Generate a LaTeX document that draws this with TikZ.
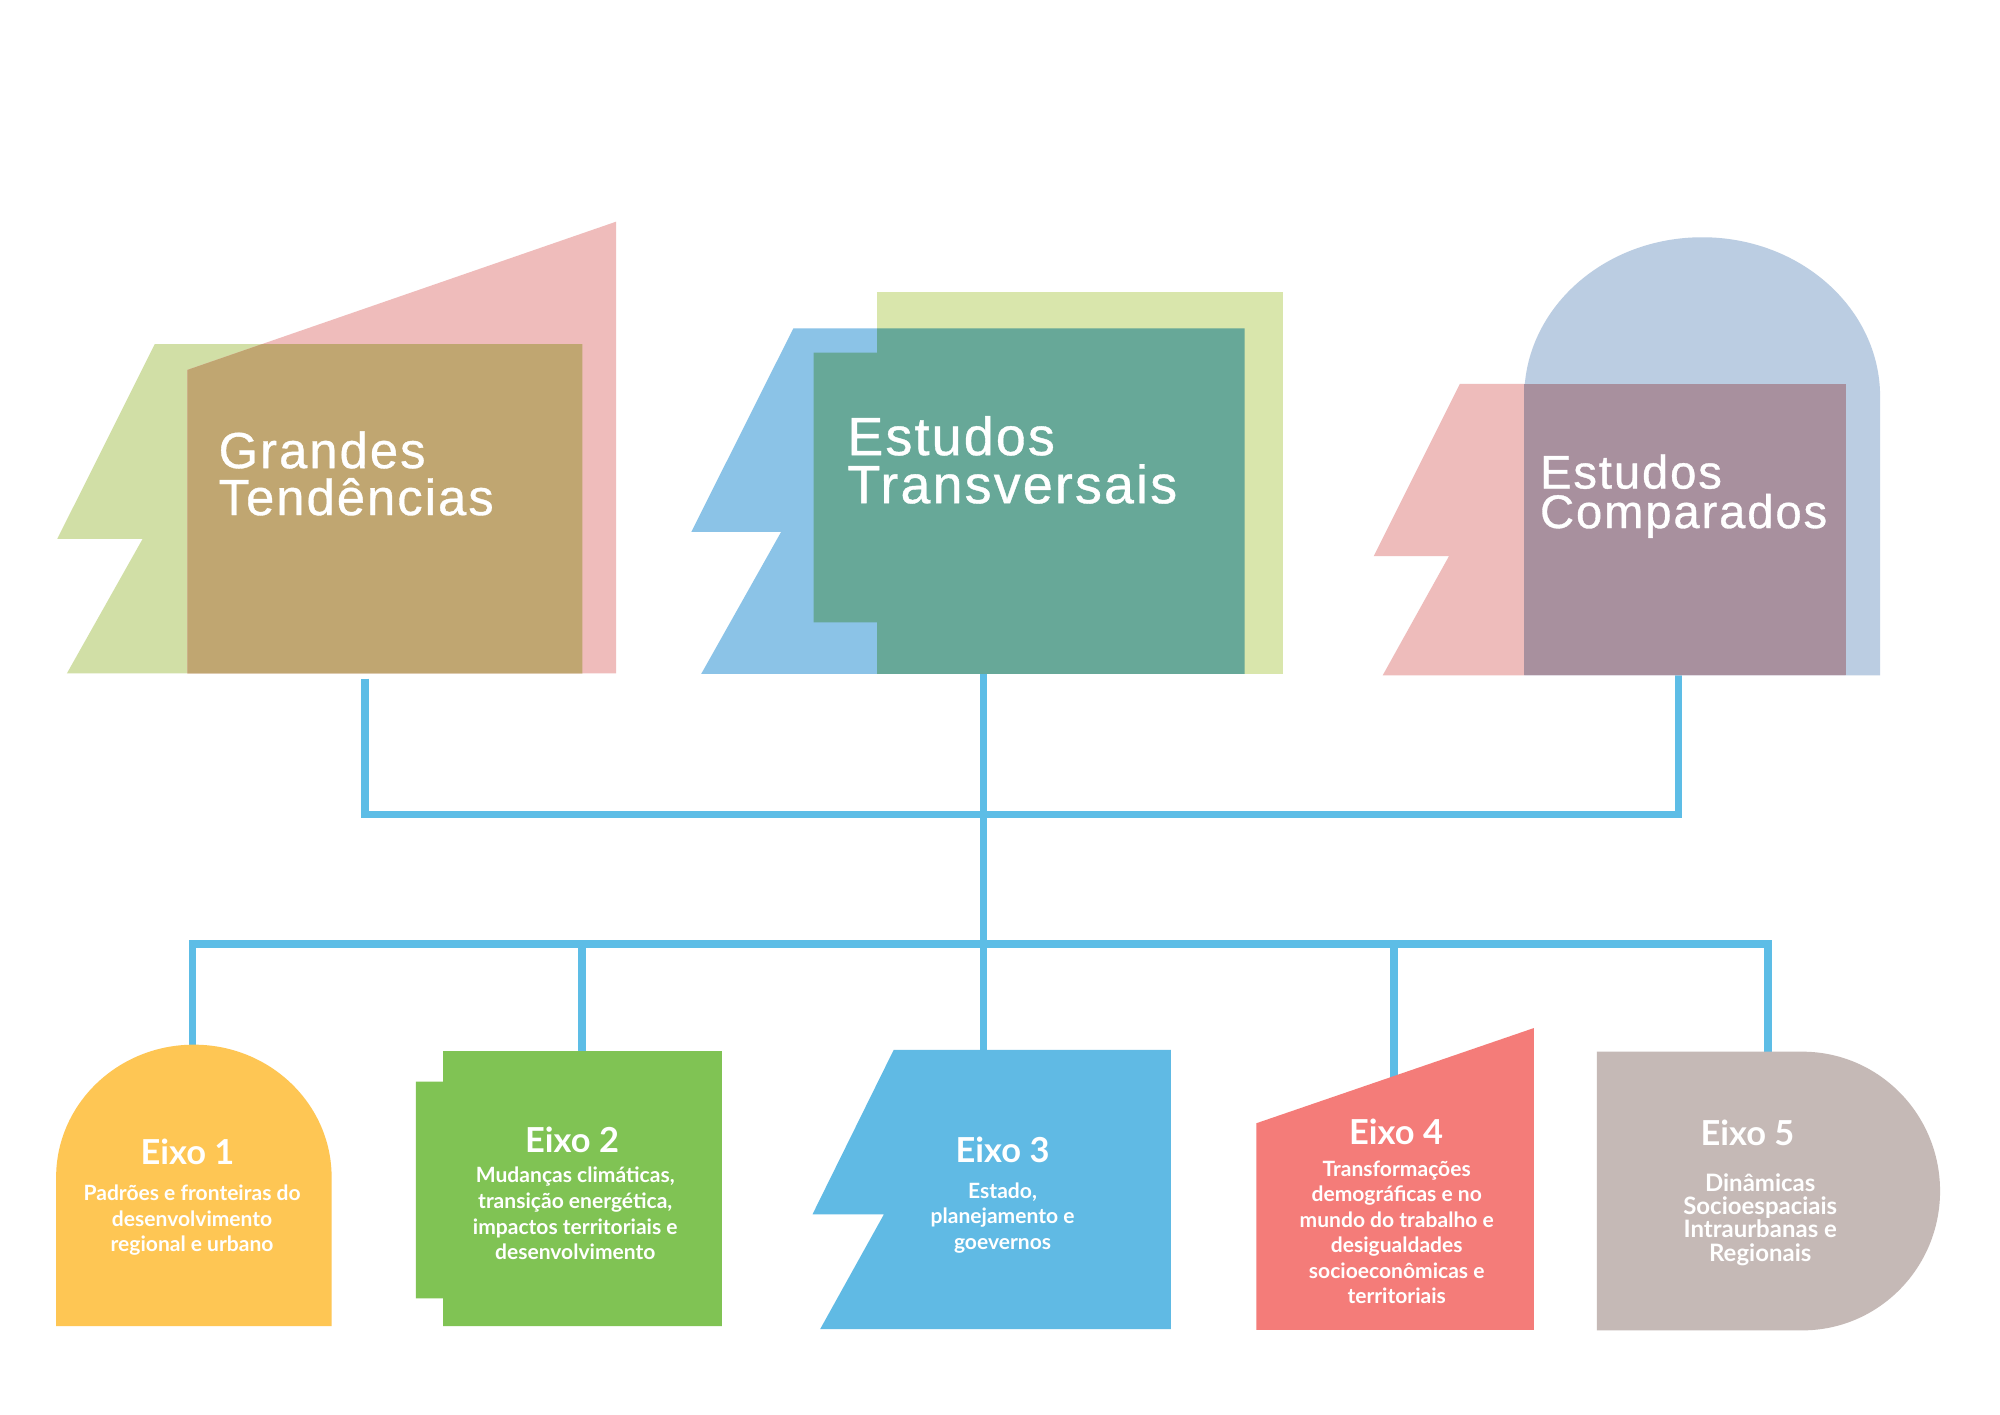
\documentclass[tikz,border=0pt]{standalone}
\usepackage{fontspec}
\usepackage{tikz}
\newfontfamily\headfont[LetterSpace=4,FakeBold=0.7]{Liberation Sans}
\newfontfamily\eixofont{Lato}
\definecolor{gtgreen}{HTML}{D1DFA6}
\definecolor{gtpink}{HTML}{EFBCBB}
\definecolor{gtbrown}{HTML}{C0A671}
\definecolor{etblue}{HTML}{8BC3E7}
\definecolor{etgreen}{HTML}{D9E6AC}
\definecolor{etteal}{HTML}{67A898}
\definecolor{ecpink}{HTML}{EEBCBB}
\definecolor{ecblue}{HTML}{BBCDE2}
\definecolor{ecmauve}{HTML}{A8909E}
\definecolor{linkblue}{HTML}{5DBDE6}
\definecolor{eixoyellow}{HTML}{FEC654}
\definecolor{eixogreen}{HTML}{80C354}
\definecolor{eixoblue}{HTML}{60BAE4}
\definecolor{eixored}{HTML}{F47C79}
\definecolor{eixotaupe}{HTML}{C5B9B6}
\newcommand{\ldstrut}{\rule{0pt}{0.9em}}

\begin{document}
\begin{tikzpicture}
[x=0.5pt,y=-0.5pt,line join=miter,
link/.style={draw=linkblue,line width=3pt},
head/.style={text=white,inner sep=0pt,anchor=base west},
title/.style={text=white,inner sep=0pt,anchor=base,font={\eixofont\bfseries\fontsize{13.5}{16}\selectfont}},
desc/.style={text=white,inner sep=0pt,anchor=north,align=center,font={\eixofont\bfseries\fontsize{8.25}{10}\selectfont}}]
    \fill[white] (0,0) rectangle (1568,1109);
    \useasboundingbox (0,0) rectangle (1568,1109);
    % connector ends
    \coordinate (gtBottom) at (286,532);
    \coordinate (etBottom) at (771,528);
    \coordinate (ecBottom) at (1316,528);
    \coordinate (hubTop) at (771,638.6);
    \coordinate (hubBottom) at (771,740);
    \coordinate (eixo1Top) at (151,822);
    \coordinate (eixo2Top) at (456.5,826);
    \coordinate (eixo3Top) at (771,825);
    \coordinate (eixo4Top) at (1093,845);
    \coordinate (eixo5Top) at (1386,826);
    \draw[link] (gtBottom) |- (hubTop) -| (ecBottom);
    \draw[link] (etBottom) -- (hubBottom);
    \draw[link] (eixo1Top) |- (hubBottom) -| (eixo5Top);
    \draw[link] (eixo2Top) -- (eixo2Top |- hubBottom);
    \draw[link] (eixo3Top) -- (hubBottom);
    \draw[link] (eixo4Top) -- (eixo4Top |- hubBottom);
    % Grandes Tendencias
    \fill[gtgreen] (121.4,269.7) -- (456.5,269.7) -- (456.5,528) -- (52.4,528) -- (111.8,422.5) -- (44.9,422.5) -- cycle;
    \fill[gtpink] (146.9,290) -- (483,173.8) -- (483,528) -- (146.9,528) -- cycle;
    \fill[gtbrown] (146.9,290) -- (205.6,269.7) -- (456.5,269.7) -- (456.5,528) -- (146.9,528) -- cycle;
    \node[head,font={\headfont\fontsize{19.9}{20}\selectfont}] (grandes) at (171,367) {Grandes};
    \node[head,font={\headfont\fontsize{19.9}{20}\selectfont}] (tendencias) at (171,403.8) {Tendências};
    % Estudos Transversais
    \fill[etblue] (622,257.4) -- (975.7,257.4) -- (975.7,528.4) -- (549.7,528.4) -- (612.4,417) -- (542,417) -- cycle;
    \fill[etgreen] (687.6,228.7) -- (1005.8,228.7) -- (1005.8,528.4) -- (687.6,528.4) -- cycle;
    \fill[etteal] (687.6,257.4) -- (975.7,257.4) -- (975.7,528.4) -- (687.6,528.4) -- (687.6,488) -- (637.8,488) -- (637.8,276.5) -- (687.6,276.5) -- cycle;
    \node[head,font={\headfont\fontsize{21.1}{21}\selectfont}] (estudosT) at (664,356.8) {Estudos};
    \node[head,font={\headfont\fontsize{21.1}{21}\selectfont}] (transversais) at (664,394.5) {Transversais};
    % Estudos Comparados
    \fill[ecpink] (1144.5,301) -- (1447,301) -- (1447,529.5) -- (1084,529.5) -- (1136,436) -- (1077,436) -- cycle;
    \fill[ecblue] (1195,529.5) -- (1195,311) arc[start angle=180,end angle=360,x radius=139.5,y radius=125] -- (1474,529.5) -- cycle;
    \fill[ecmauve] (1195,301) rectangle (1447,529.5);
    \node[head,font={\headfont\fontsize{18.5}{18}\selectfont}] (estudosC) at (1207,383) {Estudos};
    \node[head,font={\headfont\fontsize{18.5}{18}\selectfont}] (comparados) at (1207,414) {Comparados};
    % eixos
    \fill[eixoyellow] (44,1039.6) -- (44,923) arc[start angle=180,end angle=360,x radius=108,y radius=104] -- (260,1039.6) -- cycle;
    \fill[eixogreen] (347.5,824) -- (566,824) -- (566,1039.6) -- (347.5,1039.6) -- (347.5,1018) -- (326,1018) -- (326,848) -- (347.5,848) -- cycle;
    \fill[eixoblue] (700.7,823) -- (918,823) -- (918,1042) -- (643,1042) -- (693,952) -- (637,952) -- cycle;
    \fill[eixored] (985,880.6) -- (1202.5,806) -- (1202.5,1042.7) -- (985,1042.7) -- cycle;
    \fill[eixotaupe] (1252,824.5) -- (1413,824.5) arc[start angle=270,end angle=450,x radius=108,y radius=109.25] -- (1252,1043) -- cycle;
    \node[title] (eixo1) at (147,913) {Eixo 1};
    \node[desc] (eixo1txt) at (150.6,926.2) {\ldstrut Padrões e fronteiras do\\desenvolvimento\\regional e urbano};
    \node[title] (eixo2) at (448.5,903.7) {Eixo 2};
    \node[desc] (eixo2txt) at (451,912.2) {\ldstrut Mudanças climáticas,\\transição energética,\\impactos territoriais e\\desenvolvimento};
    \node[title] (eixo3) at (786,911.5) {Eixo 3};
    \node[desc] (eixo3txt) at (786,924.2) {\ldstrut Estado,\\planejamento e\\goevernos};
    \node[title] (eixo4) at (1094.5,897) {Eixo 4};
    \node[desc] (eixo4txt) at (1095,906.9) {\ldstrut Transformações\\demográficas e no\\mundo do trabalho e\\desigualdades\\socioeconômicas e\\territoriais};
    \node[title] (eixo5) at (1370,897.7) {Eixo 5};
    \node[desc,font={\eixofont\bfseries\fontsize{9.4}{9.15}\selectfont}] (eixo5txt) at (1380,916.5) {\ldstrut Dinâmicas\\Socioespaciais\\Intraurbanas e\\Regionais};
\end{tikzpicture}
\end{document}
